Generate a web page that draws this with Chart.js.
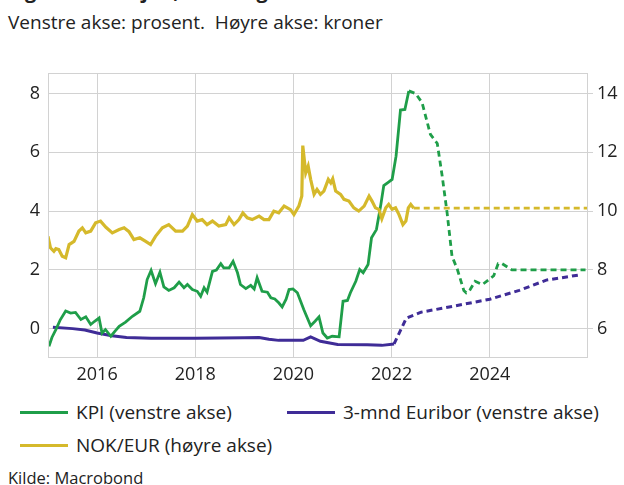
<html lang="no">
<head>
  <meta charset="UTF-8">
  <title>KPI, Euribor og NOK/EUR</title>
  <script src="https://cdn.jsdelivr.net/npm/chart.js"></script>
  <style>
    body { margin: 0; width: 624px; height: 485px; position: relative; overflow: hidden; background: #fff; font-family: "Open Sans", sans-serif; color: #222; }
    #tittel { position: absolute; left: 8px; top: -21px; font-size: 20px; line-height: 24px; font-weight: bold; white-space: nowrap; }
    #undertittel { position: absolute; left: 8px; top: 10px; font-size: 19px; line-height: 24px; }
    #boks { position: absolute; left: 0; top: 40px; width: 624px; height: 350px; }
    .leg { position: absolute; font-size: 19px; line-height: 24px; white-space: nowrap; }
    .leg span { display: inline-block; width: 48px; height: 3px; vertical-align: middle; margin-right: 8px; position: relative; top: -1px; }
    #kilde { position: absolute; left: 8px; top: 467px; font-size: 16.5px; line-height: 22px; }
  </style>
</head>
<body>
  <div id="tittel">Figur 1: Inflasjon, rente og valutakurs</div>
  <div id="undertittel">Venstre akse: prosent.&nbsp; Høyre akse: kroner</div>
  <div id="boks"><canvas id="graf"></canvas></div>
  <div class="leg" style="left:20px; top:400px;"><span style="background:#1f9e49"></span>KPI (venstre akse)</div>
  <div class="leg" style="left:287px; top:400px;"><span style="background:#3f2c97"></span>3-mnd Euribor (venstre akse)</div>
  <div class="leg" style="left:20px; top:433px;"><span style="background:#d5b92b"></span>NOK/EUR (høyre akse)</div>
  <div id="kilde">Kilde: Macrobond</div>

  <script>
    // Årstall på x-aksen
    const aarTicks = [2016, 2018, 2020, 2022, 2024];
    const venstreTicks = [0, 2, 4, 6, 8];
    const hoyreTicks = [6, 8, 10, 12, 14];

    // KPI, faktisk (prosent)
    const kpiDatoer = [2015.02, 2015.08, 2015.17, 2015.25, 2015.36, 2015.46, 2015.56, 2015.67, 2015.77, 2015.87, 2015.95,
      2016.04, 2016.1, 2016.17, 2016.28, 2016.37, 2016.45, 2016.58, 2016.72, 2016.87, 2016.95,
      2017.02, 2017.1, 2017.19, 2017.28, 2017.36, 2017.46, 2017.57, 2017.67, 2017.77, 2017.84, 2017.94,
      2018.04, 2018.11, 2018.18, 2018.24, 2018.35, 2018.43, 2018.52, 2018.58, 2018.69, 2018.77, 2018.86, 2018.92,
      2019.03, 2019.13, 2019.2, 2019.26, 2019.36, 2019.47, 2019.54, 2019.62, 2019.7, 2019.77, 2019.85, 2019.91, 2019.99,
      2020.08, 2020.21, 2020.35, 2020.44, 2020.52, 2020.6, 2020.69, 2020.79, 2020.93,
      2021.01, 2021.1, 2021.16, 2021.27, 2021.35, 2021.42, 2021.52, 2021.59, 2021.69, 2021.78, 2021.84, 2021.93,
      2022.01, 2022.09, 2022.18, 2022.27, 2022.35];
    const kpiVerdier = [-0.6, -0.3, 0.0, 0.3, 0.6, 0.53, 0.55, 0.31, 0.4, 0.14, 0.25,
      0.36, -0.15, -0.03, -0.26, -0.08, 0.08, 0.22, 0.42, 0.59, 1.05,
      1.67, 1.98, 1.53, 1.92, 1.42, 1.3, 1.39, 1.58, 1.39, 1.5, 1.33,
      1.27, 1.1, 1.39, 1.24, 1.95, 1.99, 2.21, 2.07, 2.07, 2.29, 1.9, 1.5,
      1.36, 1.47, 1.35, 1.73, 1.27, 1.24, 1.05, 1.01, 0.88, 0.74, 1.0, 1.33, 1.35,
      1.22, 0.65, 0.1, 0.25, 0.4, -0.15, -0.32, -0.26, -0.28,
      0.93, 0.96, 1.22, 1.61, 2.01, 1.9, 2.18, 3.09, 3.37, 4.22, 4.87, 4.98,
      5.08, 5.87, 7.44, 7.46, 8.09];

    // KPI, prognose
    const kpiProgDatoer = [2022.35, 2022.49, 2022.62, 2022.79, 2022.93, 2023.03, 2023.13, 2023.23, 2023.34, 2023.47,
      2023.52, 2023.6, 2023.7, 2023.85, 2023.98, 2024.08, 2024.17, 2024.25, 2024.45, 2025.95];
    const kpiProgVerdier = [8.09, 8.0, 7.69, 6.61, 6.3, 5.19, 3.94, 2.46, 2.01, 1.3,
      1.22, 1.33, 1.61, 1.5, 1.67, 1.8, 2.21, 2.21, 2.0, 2.0];

    // 3-mnd Euribor (prosent)
    const euriborDatoer = [2015.1, 2015.5, 2015.75, 2016.0, 2016.3, 2016.6, 2017.1, 2018.0, 2019.0, 2019.3, 2019.5, 2019.7,
      2020.2, 2020.35, 2020.55, 2020.9, 2021.5, 2021.8, 2022.05];
    const euriborVerdier = [0.05, 0.0, -0.05, -0.15, -0.24, -0.3, -0.33, -0.33, -0.31, -0.3, -0.36, -0.4,
      -0.4, -0.28, -0.43, -0.54, -0.55, -0.57, -0.52];
    const euriborProgDatoer = [2022.05, 2022.3, 2022.6, 2023.25, 2024.0, 2024.6, 2025.15, 2025.87];
    const euriborProgVerdier = [-0.52, 0.36, 0.56, 0.76, 1.0, 1.3, 1.65, 1.84];

    // NOK/EUR (kroner)
    const nokDatoer = [2015.0, 2015.05, 2015.12, 2015.16, 2015.22, 2015.29, 2015.36, 2015.43, 2015.53, 2015.63, 2015.7, 2015.77, 2015.87, 2015.97,
      2016.07, 2016.18, 2016.31, 2016.45, 2016.55, 2016.65, 2016.75, 2016.87, 2016.99,
      2017.09, 2017.19, 2017.33, 2017.46, 2017.6, 2017.74, 2017.84, 2017.94,
      2018.04, 2018.14, 2018.24, 2018.35, 2018.48, 2018.62, 2018.69, 2018.79, 2018.89, 2018.97,
      2019.06, 2019.16, 2019.3, 2019.4, 2019.5, 2019.6, 2019.7, 2019.81, 2019.94,
      2020.01, 2020.11, 2020.17, 2020.19, 2020.25, 2020.3, 2020.35, 2020.42, 2020.48, 2020.55, 2020.62, 2020.71, 2020.76, 2020.8, 2020.86, 2020.96,
      2021.03, 2021.13, 2021.23, 2021.33, 2021.44, 2021.54, 2021.6, 2021.67, 2021.74, 2021.8, 2021.88, 2021.94,
      2022.01, 2022.08, 2022.15, 2022.23, 2022.29, 2022.34, 2022.39, 2022.45];
    const nokVerdier = [9.14, 8.75, 8.63, 8.72, 8.69, 8.46, 8.41, 8.86, 8.97, 9.32, 9.43, 9.26, 9.32, 9.6,
      9.66, 9.45, 9.26, 9.37, 9.43, 9.3, 9.03, 9.09, 8.97,
      8.86, 9.14, 9.43, 9.54, 9.32, 9.32, 9.49, 9.88,
      9.66, 9.71, 9.54, 9.66, 9.49, 9.54, 9.77, 9.54, 9.71, 9.94,
      9.77, 9.71, 9.83, 9.71, 9.71, 10.0, 9.94, 10.17, 10.05,
      9.88, 10.17, 10.51, 12.23, 11.3, 11.53, 11.08, 10.57, 10.74, 10.57, 10.68, 11.08, 10.96, 11.1, 10.68, 10.57,
      10.4, 10.34, 10.11, 10.0, 10.17, 10.51, 10.34, 10.11, 10.06, 9.74, 10.11, 10.23,
      10.06, 10.11, 9.88, 9.54, 9.66, 10.11, 10.23, 10.1];
    const nokProgDatoer = [2022.45, 2026.0];
    const nokProgVerdier = [10.1, 10.1];

    const gronn = '#1f9e49';
    const lilla = '#3f2c97';
    const gul = '#d5b92b';
    const gridFarge = '#d2d2d2';

    function punkter(datoer, verdier) {
      return datoer.map((d, i) => ({ x: d, y: verdier[i] }));
    }

    function serie(datoer, verdier, farge, bredde, akse, stiplet) {
      return {
        data: punkter(datoer, verdier),
        borderColor: farge,
        borderWidth: bredde,
        borderDash: stiplet ? [6, 4] : [],
        pointRadius: 0,
        fill: false,
        tension: 0,
        yAxisID: akse
      };
    }

    // ramme rundt plottområdet
    const ramme = {
      id: 'ramme',
      afterDraw(chart) {
        const a = chart.chartArea;
        const c = chart.ctx;
        c.save();
        c.strokeStyle = gridFarge;
        c.lineWidth = 1;
        c.strokeRect(a.left + 0.5, a.top + 0.5, a.right - a.left - 1, a.bottom - a.top - 1);
        c.restore();
      }
    };

    const tickFont = { family: 'Open Sans', size: 18 };

    new Chart(document.getElementById('graf').getContext('2d'), {
      type: 'line',
      data: {
        datasets: [
          serie(nokDatoer, nokVerdier, gul, 3.2, 'y1', false),
          serie(nokProgDatoer, nokProgVerdier, gul, 2.8, 'y1', true),
          serie(kpiDatoer, kpiVerdier, gronn, 2.8, 'y', false),
          serie(kpiProgDatoer, kpiProgVerdier, gronn, 2.8, 'y', true),
          serie(euriborDatoer, euriborVerdier, lilla, 3, 'y', false),
          serie(euriborProgDatoer, euriborProgVerdier, lilla, 3, 'y', true)
        ]
      },
      options: {
        responsive: true,
        maintainAspectRatio: false,
        animation: false,
        layout: { padding: { top: 33, left: 0, right: 0, bottom: 0 } },
        plugins: { legend: { display: false }, tooltip: { enabled: false } },
        scales: {
          x: {
            type: 'linear',
            min: 2015,
            max: 2026,
            afterBuildTicks: (s) => { s.ticks = aarTicks.map(v => ({ value: v })); },
            afterFit: (s) => { s.height = 32; },
            grid: { color: gridFarge, drawTicks: false },
            border: { display: false },
            ticks: { padding: 6, color: '#222', font: tickFont, callback: (v) => String(v) }
          },
          y: {
            position: 'left',
            min: -1,
            max: 8.7,
            afterBuildTicks: (s) => { s.ticks = venstreTicks.map(v => ({ value: v })); },
            afterFit: (s) => { s.width = 48; },
            grid: { color: gridFarge, drawTicks: false },
            border: { display: false },
            ticks: { padding: 8, color: '#222', font: tickFont }
          },
          y1: {
            position: 'right',
            min: 5,
            max: 14.7,
            afterBuildTicks: (s) => { s.ticks = hoyreTicks.map(v => ({ value: v })); },
            afterFit: (s) => { s.width = 36; },
            grid: { color: gridFarge, drawOnChartArea: false, tickLength: 5 },
            border: { display: false },
            ticks: { padding: 4, color: '#222', font: tickFont }
          }
        }
      },
      plugins: [ramme]
    });
  </script>
</body>
</html>
